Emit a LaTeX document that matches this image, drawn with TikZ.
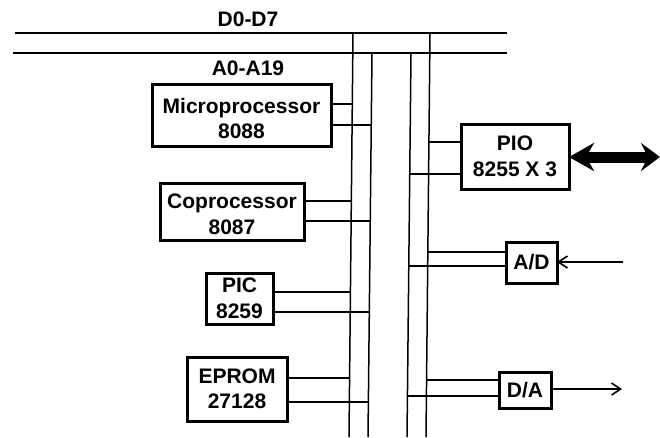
\documentclass[tikz,border=0pt]{standalone}
\usepackage{fontspec}
\setmainfont{Liberation Sans}
\usetikzlibrary{arrows.meta,positioning,calc}

\begin{document}
\begin{tikzpicture}[
    x=1pt, y=-1pt,
    font=\fontsize{21}{25.5}\selectfont\bfseries,
    block/.style={rectangle, draw=black, line width=3pt, align=center, inner sep=0pt, outer sep=0pt},
    bus/.style={line width=1.5pt, draw=black},
    stub/.style={line width=1.2pt, draw=black},
    stubheavy/.style={line width=2pt, draw=black},
    signal/.style={-{Straight Barb[length=9pt,width=12pt,line width=1.6pt]}, line width=2.4pt, draw=black},
    port/.style={{Stealth[length=25pt,width=28pt,inset=8pt]}-{Stealth[length=19pt,width=28pt,inset=7pt]}, line width=11pt, draw=black}
  ]
  \useasboundingbox (0,0) rectangle (660,437);
  % address and data lines
  \coordinate (dleft) at (15,33);
  \coordinate (dright) at (507,33);
  \coordinate (aleft) at (13,53);
  \coordinate (aright) at (507,53);
  \node (dlabel) at (248,19) {D0-D7};
  \node (alabel) at (248,68) {A0-A19};
  \draw[bus] (dleft)--(dright);
  \draw[bus] (aleft)--(aright);
  % vertical buses
  \coordinate (d1top) at (353,33);
  \coordinate (d1bot) at (349,437);
  \coordinate (a1top) at (372,53);
  \coordinate (a1bot) at (368,437);
  \coordinate (a2top) at (411,53);
  \coordinate (a2bot) at (407,437);
  \coordinate (d2top) at (430,33);
  \coordinate (d2bot) at (426,437);
  \draw[bus] (d1top)--(d1bot);
  \draw[bus] (a1top)--(a1bot);
  \draw[bus] (a2top)--(a2bot);
  \draw[bus] (d2top)--(d2bot);
  % left column
  \node[block, minimum width=179pt, minimum height=62pt] (micro) at (241.5,115)
    {\rule{0pt}{22pt}Microprocessor\\8088};
  \node[block, minimum width=144pt, minimum height=57pt] (copro) at (232,211.5)
    {\rule{0pt}{20pt}Coprocessor\\8087};
  \node[block, minimum width=67pt, minimum height=51pt] (pic) at (239.5,298.5)
    {PIC\\8259};
  \node[block, minimum width=100pt, minimum height=64pt] (eprom) at (237,389)
    {EPROM\\27128};
  % right column
  \node[block, minimum width=108pt, minimum height=65pt] (pio) at (515,156.5)
    {PIO\\8255 X 3};
  \node[block, minimum width=51pt, minimum height=41pt] (ad) at (531.5,262.5) {A/D};
  \node[block, minimum width=52pt, minimum height=36pt] (da) at (525,390) {D/A};
  % ends of the stubs on the buses
  \coordinate (m1) at (352,104);
  \coordinate (m2) at (372,125);
  \coordinate (c1) at (351,201);
  \coordinate (c2) at (370,221);
  \coordinate (p1) at (350,292);
  \coordinate (p2) at (369,311.5);
  \coordinate (e1) at (350,378);
  \coordinate (e2) at (368,402);
  \coordinate (o1) at (428,142);
  \coordinate (o2) at (410,174);
  \coordinate (k1) at (428,252);
  \coordinate (k2) at (409,266);
  \coordinate (g1) at (427,380);
  \coordinate (g2) at (408,396);
  \draw[stub] (micro.east |- m1)--(m1);
  \draw[stubheavy] (micro.east |- m2)--(m2);
  \draw[stub] (copro.east |- c1)--(c1);
  \draw[stub] (copro.east |- c2)--(c2);
  \draw[stub] (pic.east |- p1)--(p1);
  \draw[stubheavy] (pic.east |- p2)--(p2);
  \draw[stubheavy] (eprom.east |- e1)--(e1);
  \draw[stub] (eprom.east |- e2)--(e2);
  \draw[stub] (o1)--(pio.west |- o1);
  \draw[stub] (o2)--(pio.west |- o2);
  \draw[stub] (k1)--(ad.west |- k1);
  \draw[stub] (k2)--(ad.west |- k2);
  \draw[stub] (g1)--(da.west |- g1);
  \draw[stub] (g2)--(da.west |- g2);
  % outside world
  \coordinate (pioout) at (660,157);
  \coordinate (adin) at (623,262);
  \coordinate (daout) at (622,389);
  \draw[port] (pio.east |- pioout)--(pioout);
  \draw[signal] (adin)--(ad.east |- adin);
  \draw[signal] (da.east |- daout)--(daout);
\end{tikzpicture}
\end{document}
